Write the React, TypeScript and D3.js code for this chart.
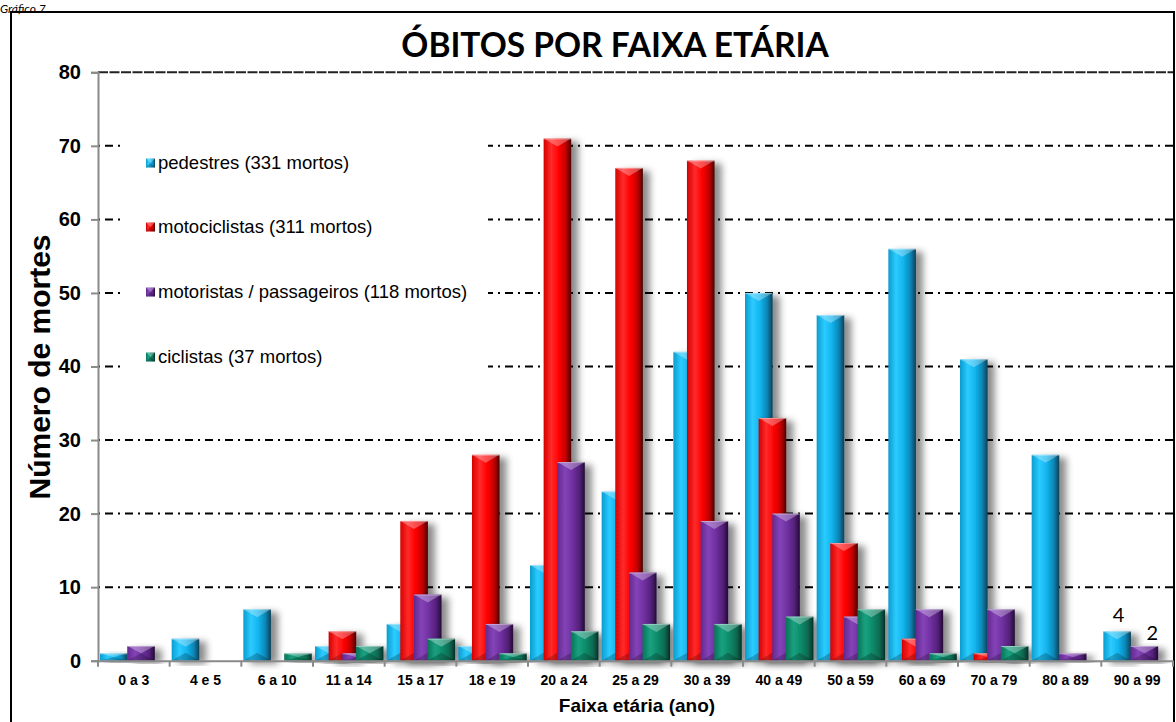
import { useEffect, useRef } from "react";
import * as d3 from "d3";

const faixas = ["0 a 3", "4 e 5", "6 a 10", "11 a 14", "15 a 17", "18 e 19", "20 a 24", "25 a 29", "30 a 39", "40 a 49", "50 a 59", "60 a 69", "70 a 79", "80 a 89", "90 a 99"];
const pedestres = [1, 3, 7, 2, 5, 2, 13, 23, 42, 50, 47, 56, 41, 28, 4];
const motociclistas = [0, 0, 0, 4, 19, 28, 71, 67, 68, 33, 16, 3, 1, 0, 0];
const motoristas = [2, 0, 0, 1, 9, 5, 27, 12, 19, 20, 6, 7, 7, 1, 2];
const ciclistas = [0, 0, 1, 2, 3, 1, 4, 5, 5, 6, 7, 1, 2, 0, 0];
const serieNames = ["pedestres (331 mortos)", "motociclistas (311 mortos)", "motoristas / passageiros (118 mortos)", "ciclistas (37 mortos)"];
const yTicks = [0, 10, 20, 30, 40, 50, 60, 70, 80];
// data labels shown only on the last group
const labelFaixa = "90 a 99";
const labelSeries = [0, 2];

const W = 1176;
const H = 722;

// horizontal gradient stops per series (left -> right)
const palettes = [
  ["#0a9ccf", "#2ccbff", "#12b4ee", "#0a86b5", "#0a3f58"],
  ["#d40000", "#ff2a2a", "#ff0000", "#c20000", "#4a0000"],
  ["#62298e", "#8443b8", "#7030a0", "#54217b", "#240a36"],
  ["#0b7358", "#17a17f", "#0e8a6a", "#0a6a50", "#05302a"],
];
const stopOffsets = [0, 0.28, 0.55, 0.8, 1];

export default function App() {
  const ref = useRef<SVGSVGElement>(null);

  useEffect(() => {
    if (!ref.current) return;
    const svg = d3.select(ref.current);
    svg.selectAll("*").remove();

    const series = [pedestres, motociclistas, motoristas, ciclistas];
    const left = 98;
    const right = 1173;
    const top = 72.3;
    const bottom = 660.7;
    const arial = "'Liberation Sans', Arial, sans-serif";

    const defs = svg.append("defs");
    palettes.forEach((p, i) => {
      const lg = defs.append("linearGradient").attr("id", `g${i}`).attr("x1", 0).attr("x2", 1).attr("y1", 0).attr("y2", 0);
      p.forEach((c, k) => lg.append("stop").attr("offset", stopOffsets[k]).attr("stop-color", c));
    });
    defs.append("filter").attr("id", "shadow").attr("x", "-20%").attr("y", "-20%").attr("width", "170%").attr("height", "140%")
      .append("feDropShadow").attr("dx", 7).attr("dy", 3).attr("stdDeviation", 3.5).attr("flood-color", "#000").attr("flood-opacity", 0.45);

    svg.append("rect").attr("width", W).attr("height", H).attr("fill", "#fff");

    // caption at the very top
    svg.append("text").attr("x", 0).attr("y", 12.5)
      .attr("font-family", "Lato, 'Open Sans', sans-serif").attr("font-style", "italic")
      .attr("font-size", 12).attr("fill", "#000").text("Gráfico 7");

    // outer frame
    svg.append("rect").attr("x", 11).attr("y", 12).attr("width", 1163).attr("height", 722)
      .attr("fill", "none").attr("stroke", "#000").attr("stroke-width", 2);

    svg.append("text").attr("x", 615).attr("y", 57).attr("text-anchor", "middle")
      .attr("font-family", "Lato, sans-serif").attr("font-weight", "bold").attr("font-size", 33.5)
      .text("ÓBITOS POR FAIXA ETÁRIA");

    const x = d3.scaleBand().domain(faixas).range([left, right]).paddingInner(0).paddingOuter(0);
    const y = d3.scaleLinear().domain([0, 80]).range([bottom, top]);
    const bw = x.bandwidth();
    const barW = bw * 0.385;
    const sub = d3.scaleLinear().domain([0, 3]).range([bw * 0.028, bw * 0.028 + 3 * bw * 0.19]);

    // gridlines
    const grid = svg.append("g");
    grid.selectAll("line").data(yTicks.filter((t) => t > 0 && t < 80)).join("line")
      .attr("x1", left).attr("x2", right).attr("y1", (d) => y(d)).attr("y2", (d) => y(d))
      .attr("stroke", "#000").attr("stroke-width", 2).attr("stroke-dasharray", "2,5,8,5");
    grid.append("line").attr("x1", left).attr("x2", right).attr("y1", y(80)).attr("y2", y(80))
      .attr("stroke", "#222").attr("stroke-width", 2).attr("stroke-dasharray", "10,1.5");

    // legend
    svg.append("rect").attr("x", 120).attr("y", 132).attr("width", 368).attr("height", 255).attr("fill", "#fff");
    const legY = [163, 227, 292, 357];
    serieNames.forEach((name, i) => {
      const lg = svg.append("g");
      const mx = 146, my = legY[i] - 4.5, s = 9;
      lg.append("rect").attr("x", mx).attr("y", my).attr("width", s).attr("height", s).attr("fill", `url(#g${i})`);
      lg.append("path").attr("d", `M${mx},${my}L${mx + s},${my}L${mx + s / 2},${my + s / 2}Z`).attr("fill", "#fff").attr("opacity", 0.3);
      lg.append("path").attr("d", `M${mx},${my + s}L${mx + s},${my + s}L${mx + s / 2},${my + s / 2}Z`).attr("fill", "#000").attr("opacity", 0.25);
      lg.append("text").attr("x", 158).attr("y", legY[i]).attr("dy", "0.35em")
        .attr("font-family", arial).attr("font-size", 18.5).text(name);
    });

    // bars: blue, red, purple, green, each later series in front
    const barsG = svg.append("g");
    faixas.forEach((f, fi) => {
      series.forEach((vals, si) => {
        const v = vals[fi];
        if (!v) return;
        const bx = (x(f) ?? 0) + sub(si);
        const by = y(v);
        const h = bottom - by;
        const b = Math.min(8, h / 2, barW / 2);
        const g = barsG.append("g").attr("filter", "url(#shadow)");
        g.append("rect").attr("x", bx).attr("y", by).attr("width", barW).attr("height", h).attr("fill", `url(#g${si})`);
        g.append("path").attr("d", `M${bx},${by}L${bx + barW},${by}L${bx + barW / 2},${by + b}Z`).attr("fill", "#fff").attr("opacity", 0.3);
        g.append("path").attr("d", `M${bx},${by + h}L${bx + barW},${by + h}L${bx + barW / 2},${by + h - b}Z`).attr("fill", "#000").attr("opacity", 0.22);
        g.append("line").attr("x1", bx).attr("x2", bx + barW).attr("y1", by + 0.5).attr("y2", by + 0.5).attr("stroke", "#fff").attr("stroke-opacity", 0.35);
      });
    });

    // data labels
    const fi = faixas.indexOf(labelFaixa);
    labelSeries.forEach((si, k) => {
      const v = series[si][fi];
      svg.append("text")
        .attr("x", (x(labelFaixa) ?? 0) + sub(si) + barW / 2 + (k === 0 ? 1.5 : 8))
        .attr("y", y(v) - (k === 0 ? 9 : 6)).attr("text-anchor", "middle")
        .attr("font-family", "Lato, sans-serif").attr("font-size", 20).text(String(v));
    });

    // y axis
    const yAxis = svg.append("g").attr("transform", `translate(${left},0)`)
      .call(d3.axisLeft(y).tickValues(yTicks).tickSize(7).tickPadding(10));
    yAxis.select(".domain").attr("stroke", "#8a8a8a").attr("stroke-width", 2);
    yAxis.selectAll(".tick line").attr("stroke", "#8a8a8a").attr("stroke-width", 2);
    yAxis.selectAll("text").attr("font-family", arial)
      .attr("font-weight", "bold").attr("font-size", 20).attr("fill", "#000");

    // x axis
    const xAxis = svg.append("g").attr("transform", `translate(0,${bottom})`)
      .call(d3.axisBottom(x).tickSize(0).tickPadding(14));
    xAxis.select(".domain").attr("stroke", "#8a8a8a").attr("stroke-width", 2);
    xAxis.selectAll("text").attr("font-family", arial)
      .attr("font-weight", "bold").attr("font-size", 14).attr("fill", "#000");
    xAxis.selectAll(".bound").data([...faixas.map((f) => x(f) ?? 0), right]).join("line")
      .attr("x1", (d) => d).attr("x2", (d) => d).attr("y1", 0).attr("y2", 6)
      .attr("stroke", "#8a8a8a").attr("stroke-width", 2);

    // axis titles
    svg.append("text").attr("transform", `translate(50,367) rotate(-90)`).attr("text-anchor", "middle")
      .attr("font-family", arial).attr("font-weight", "bold").attr("font-size", 30)
      .text("Número de mortes");
    svg.append("text").attr("x", 637).attr("y", 712).attr("text-anchor", "middle")
      .attr("font-family", arial).attr("font-weight", "bold").attr("font-size", 19)
      .text("Faixa etária (ano)");
  }, []);

  return <svg ref={ref} width={W} height={H} style={{ position: "absolute", left: 0, top: 0 }} />;
}
